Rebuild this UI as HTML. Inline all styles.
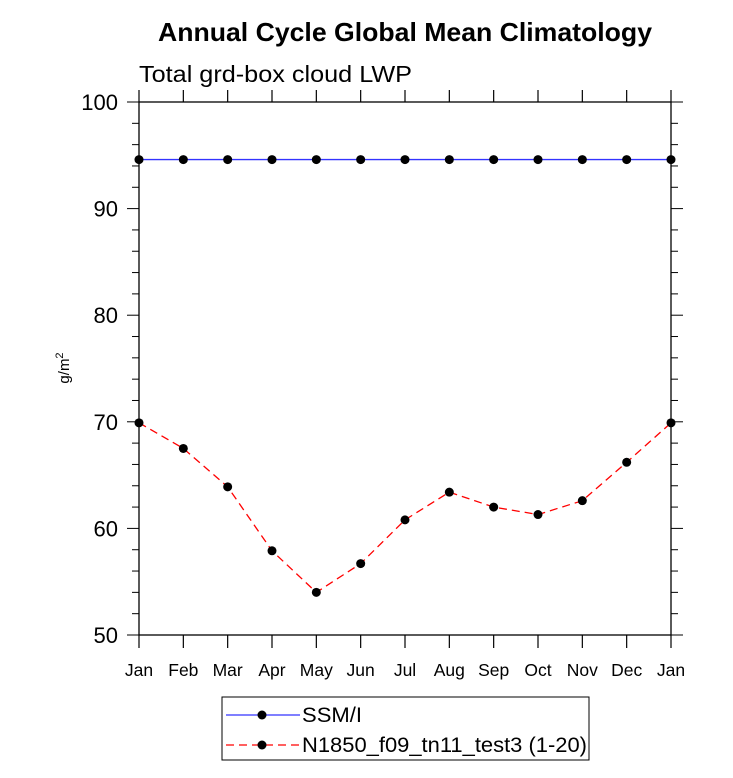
<!DOCTYPE html>
<html><head><meta charset="utf-8"><style>body{margin:0;background:#fff}svg text{font-family:"Liberation Sans",Helvetica,sans-serif}</style></head>
<body>
<svg id="c" width="733" height="773">
<text x="158" y="41" textLength="494" lengthAdjust="spacingAndGlyphs" font-size="26" font-weight="bold">Annual Cycle Global Mean Climatology</text>
<text x="139" y="82" textLength="273" lengthAdjust="spacingAndGlyphs" font-size="23">Total grd-box cloud LWP</text>
<text transform="translate(69,368) rotate(-90)" text-anchor="middle" font-size="15">g/m<tspan dy="-6" font-size="11">2</tspan></text>
<g id="axes"></g><g id="series"></g>
<g>
<rect x="222" y="697" width="367" height="63" fill="#fff" stroke="#000" stroke-width="1"/>
<line x1="226" y1="715" x2="300" y2="715" stroke="#3333ff" stroke-width="1.3"/>
<circle cx="262" cy="715" r="4.5" fill="#000"/>
<text x="302" y="722" textLength="60" lengthAdjust="spacingAndGlyphs" font-size="21">SSM/I</text>
<line x1="226" y1="745" x2="300" y2="745" stroke="#ff0000" stroke-width="1.3" stroke-dasharray="8,5"/>
<circle cx="262" cy="745" r="4.5" fill="#000"/>
<text x="302" y="752" textLength="285" lengthAdjust="spacingAndGlyphs" font-size="21">N1850_f09_tn11_test3 (1-20)</text>
</g>
</svg>
<script>
const months=["Jan","Feb","Mar","Apr","May","Jun","Jul","Aug","Sep","Oct","Nov","Dec","Jan"];
const ssmi=[94.6,94.6,94.6,94.6,94.6,94.6,94.6,94.6,94.6,94.6,94.6,94.6,94.6];
const model=[69.9,67.5,63.9,57.9,54.0,56.7,60.8,63.4,62.0,61.3,62.6,66.2,69.9];
const yTicks=[50,60,70,80,90,100];
const NS="http://www.w3.org/2000/svg";
const L=139,R=671,T=102,B=635;
const xs=i=>L+(R-L)*i/(months.length-1);
const ys=v=>B-(v-50)/50*(B-T);
function mk(tag,at,parent){const e=document.createElementNS(NS,tag);for(const k in at)e.setAttribute(k,at[k]);parent.appendChild(e);return e;}
const ax=document.getElementById('axes');
const frame=mk('rect',{x:L,y:T,width:R-L,height:B-T,fill:'none',stroke:'#000','stroke-width':1.3},ax);


months.forEach((m,i)=>{const x=xs(i);
mk('line',{x1:x,y1:B,x2:x,y2:B+13,stroke:'#000','stroke-width':1.2},ax);
mk('line',{x1:x,y1:T,x2:x,y2:T-12,stroke:'#000','stroke-width':1.2},ax);
const t=mk('text',{x:x,y:B+41,'text-anchor':'middle','font-size':17.5},ax);t.textContent=m;

});
for(let v=50;v<=100;v+=2){const y=ys(v);const maj=v%10===0;const len=maj?12:7;
mk('line',{x1:L,y1:y,x2:L-len,y2:y,stroke:'#000','stroke-width':1},ax);
mk('line',{x1:R,y1:y,x2:R+len,y2:y,stroke:'#000','stroke-width':1},ax);}
yTicks.forEach(v=>{const t=mk('text',{x:L-21,y:ys(v)+8,'text-anchor':'end','font-size':22},ax);t.textContent=v;

});
const sg=document.getElementById('series');
function series(vals,color,dash,name){
const p=mk('polyline',{points:vals.map((v,i)=>xs(i)+','+ys(v)).join(' '),fill:'none',stroke:color,'stroke-width':1.3,'stroke-dasharray':dash},sg);


vals.forEach((v,i)=>{const c=mk('circle',{cx:xs(i),cy:ys(v),r:4.5,fill:'#000'},sg);

});}
series(ssmi,'#3333ff','none','ssmi');
series(model,'#ff0000','8,5','model');
</script>
</body></html>
